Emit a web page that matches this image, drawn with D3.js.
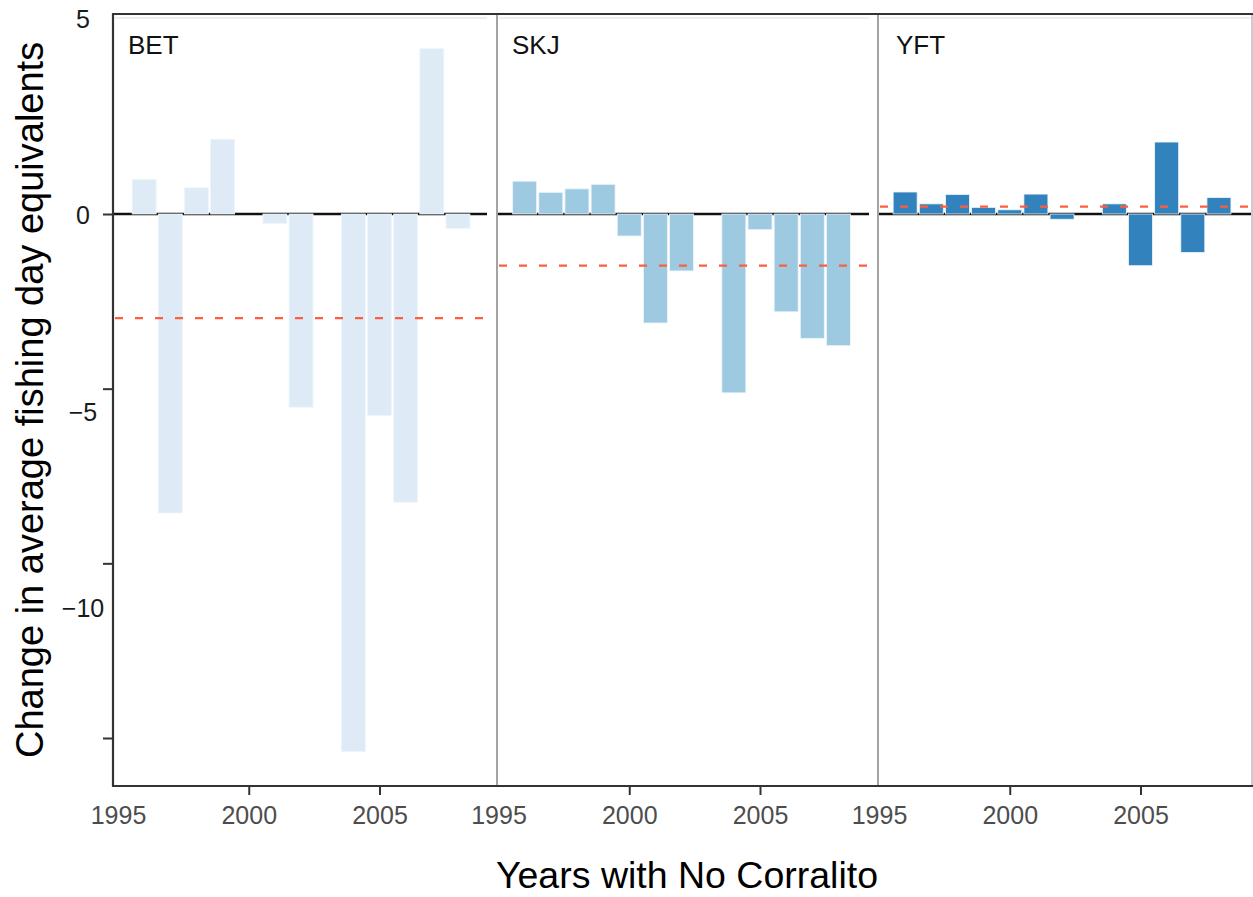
<!DOCTYPE html>
<html><head><meta charset="utf-8">
<script src="https://cdn.jsdelivr.net/npm/d3@7"></script>
<style>
html,body{margin:0;padding:0;background:#fff;}
svg{display:block;font-family:"Liberation Sans",Arial,Helvetica,sans-serif;}
</style></head>
<body>
<svg id="chart" width="1253" height="897"></svg>
<script>
// ---- data ----
const years = [1996,1997,1998,1999,2000,2001,2002,2003,2004,2005,2006,2007,2008];
const species = ["BET","SKJ","YFT"];
const betValues = [0.99,-8.56,0.75,2.14,0,-0.27,-5.53,0,-15.39,-5.77,-8.25,4.73,-0.41];
const skjValues = [0.94,0.62,0.72,0.85,-0.63,-3.12,-1.63,0,-5.12,-0.45,-2.80,-3.56,-3.77];
const yftValues = [0.63,0.29,0.56,0.19,0.12,0.57,-0.15,0,0.29,-1.48,2.06,-1.10,0.47];
const meanValues = [-2.98,-1.48,0.21];
const barColors = ["#deebf7","#9ecae1","#3182bd"];
const xTickValues = [1995,2000,2005];
const yTickValues = [0,-5,-10,-15];
const yLabelValues = [5,0,-5,-10];
const seriesValues = [betValues, skjValues, yftValues];

// ---- layout ----
const svg = d3.select("#chart");
const panelTop = 14, panelBottom = 786;
const panels = [
  {left:113, right:497, x1995:118, lineEnd:487},
  {left:497, right:878, x1995:498.5, lineEnd:869},
  {left:878, right:1252, x1995:879, lineEnd:1251}
];
const perYear = 26.15;

const y = d3.scaleLinear().domain([0,-15]).range([214, 738]);
const yLab = d3.scaleLinear().domain([0,-10]).range([215.5, 608.5]);

// faint top line inside panels
panels.forEach(p=>{
  svg.append("line").attr("x1",p.left+2).attr("x2",p.lineEnd).attr("y1",18).attr("y2",18)
    .attr("stroke","#eeeeee").attr("stroke-width",2);
});

species.forEach((sp,i)=>{
  const p = panels[i];
  const x = d3.scaleLinear().domain([1995,2009]).range([p.x1995, p.x1995+14*perYear]);
  const g = svg.append("g");
  const bw = 24;
  const data = years.map((yr,j)=>({year:yr, value:seriesValues[i][j]}));
  // zero line
  g.append("line").attr("x1",p.left+1).attr("x2",p.lineEnd)
    .attr("y1",y(0)).attr("y2",y(0)).attr("stroke","#111").attr("stroke-width",2.5);
  g.selectAll("rect").data(data.filter(d=>d.value!==0)).join("rect")
    .attr("x",d=>x(d.year)-bw/2)
    .attr("width",bw)
    .attr("y",d=>Math.min(y(d.value),y(0)))
    .attr("height",d=>Math.abs(y(d.value)-y(0)))
    .attr("fill",barColors[i])
    .attr("stroke","#eef5fb").attr("stroke-width",0.8);
  // mean dashed line
  g.append("line").attr("x1",p.left+2).attr("x2",p.lineEnd)
    .attr("y1",y(meanValues[i])).attr("y2",y(meanValues[i]))
    .attr("stroke","#fc5f3f").attr("stroke-width",2.2).attr("stroke-dasharray","8,12");
  // panel label
  g.append("text").attr("x",p.left + (i===2?18:15)).attr("y",54)
    .attr("font-size",26).attr("fill","#111").text(sp);
  // x axis
  const ax = svg.append("g").attr("transform",`translate(0,${panelBottom})`)
    .call(d3.axisBottom(x).tickValues(xTickValues).tickFormat(d3.format("d")).tickSize(9).tickPadding(11));
  ax.select(".domain").remove();
  ax.selectAll(".tick line").attr("stroke","#333").attr("stroke-width",2)
    .filter(d=>d===1995).remove();
  ax.selectAll(".tick text").attr("font-size",25).attr("fill","#4d4d4d")
    .attr("font-family","'Liberation Sans',Arial,sans-serif");
});

// panel dividers and borders
svg.append("line").attr("x1",panels[1].left).attr("x2",panels[1].left).attr("y1",panelTop).attr("y2",panelBottom)
  .attr("stroke","#999").attr("stroke-width",1.8);
svg.append("line").attr("x1",panels[2].left).attr("x2",panels[2].left).attr("y1",panelTop).attr("y2",panelBottom)
  .attr("stroke","#999").attr("stroke-width",1.8);
svg.append("line").attr("x1",panels[2].right).attr("x2",panels[2].right).attr("y1",panelTop).attr("y2",panelBottom)
  .attr("stroke","#bbb").attr("stroke-width",1.5);
svg.append("line").attr("x1",panels[0].left).attr("x2",1253).attr("y1",panelTop).attr("y2",panelTop)
  .attr("stroke","#333").attr("stroke-width",2.2);
svg.append("line").attr("x1",panels[0].left).attr("x2",1253).attr("y1",panelBottom).attr("y2",panelBottom)
  .attr("stroke","#333").attr("stroke-width",2.2);
svg.append("line").attr("x1",panels[0].left).attr("x2",panels[0].left).attr("y1",panelTop-1).attr("y2",panelBottom+1)
  .attr("stroke","#333").attr("stroke-width",2.2);

// y axis ticks
const yt = svg.append("g").attr("transform",`translate(${panels[0].left},0)`)
  .call(d3.axisLeft(y).tickValues(yTickValues).tickFormat("").tickSize(10));
yt.select(".domain").remove();
yt.selectAll(".tick line").attr("stroke","#333").attr("stroke-width",2);

// y axis labels
const yl = svg.append("g").attr("transform","translate(83,0)")
  .call(d3.axisLeft(yLab).tickValues(yLabelValues).tickFormat(d=>d<0?"\u2212"+Math.abs(d):d).tickSize(0).tickPadding(0));
yl.select(".domain").remove();
yl.selectAll(".tick text").attr("text-anchor","middle").attr("font-size",25).attr("fill","#1a1a1a")
  .attr("font-family","'Liberation Sans',Arial,sans-serif");

// titles
svg.append("text").attr("transform","translate(43,758) rotate(-90)")
  .attr("font-size",38).attr("fill","#000").text("Change in average fishing day equivalents");
svg.append("text").attr("x",687).attr("y",888).attr("text-anchor","middle")
  .attr("font-size",37.5).attr("fill","#000").text("Years with No Corralito");
</script>
</body></html>
